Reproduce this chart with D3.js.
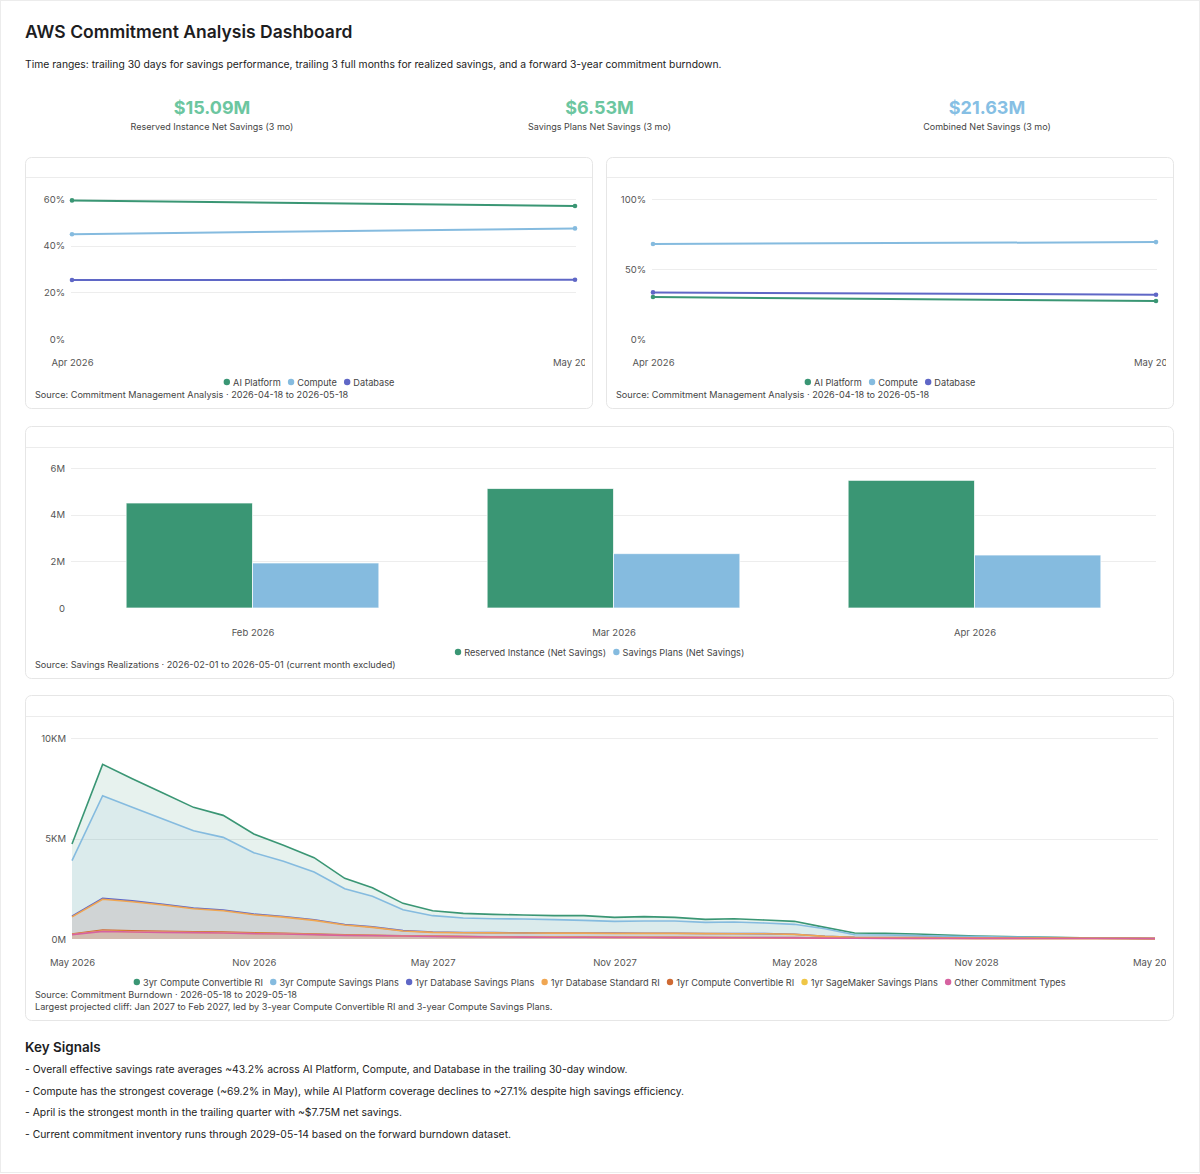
<!DOCTYPE html>
<html><head><meta charset="utf-8">
<script src="https://cdn.jsdelivr.net/npm/d3@7"></script>
<style>
body{margin:0;background:#fff;}
svg text{font-family:Inter,"Noto Sans",Arial,sans-serif;}
</style></head>
<body><svg id="page" width="1200" height="1174"></svg>
<script>
// ---------- DATA ----------
const kpiValues = ["$15.09M", "$6.53M", "$21.63M"];
const kpiLabels = ["Reserved Instance Net Savings (3 mo)", "Savings Plans Net Savings (3 mo)", "Combined Net Savings (3 mo)"];

const lineCategories = ["Apr 2026", "May 2026"];
const lineSeriesNames = ["AI Platform", "Compute", "Database"];
// savings rate (%)
const rateAI = [59.4, 57.0];
const rateCompute = [44.9, 47.4];
const rateDatabase = [25.3, 25.4];
const rateTicks = [0, 20, 40, 60];
const rateTickLabels = ["0%", "20%", "40%", "60%"];
// coverage (%)
const covAI = [30.0, 27.1];
const covCompute = [67.9, 69.2];
const covDatabase = [33.3, 31.6];
const covTicks = [0, 50, 100];
const covTickLabels = ["0%", "50%", "100%"];

const barMonths = ["Feb 2026", "Mar 2026", "Apr 2026"];
const barSeriesNames = ["Reserved Instance (Net Savings)", "Savings Plans (Net Savings)"];
const riNetSavings = [4.50, 5.12, 5.47];   // $M
const spNetSavings = [1.93, 2.33, 2.27];   // $M
const barTicks = [0, 2, 4, 6];
const barTickLabels = ["0", "2M", "4M", "6M"];

const burnMonths = ["2026-05","2026-06","2026-07","2026-08","2026-09","2026-10","2026-11","2026-12",
  "2027-01","2027-02","2027-03","2027-04","2027-05","2027-06","2027-07","2027-08","2027-09","2027-10","2027-11","2027-12",
  "2028-01","2028-02","2028-03","2028-04","2028-05","2028-06","2028-07","2028-08","2028-09","2028-10","2028-11","2028-12",
  "2029-01","2029-02","2029-03","2029-04","2029-05"];
const burnSeriesNames = ["3yr Compute Convertible RI","3yr Compute Savings Plans","1yr Database Savings Plans",
  "1yr Database Standard RI","1yr Compute Convertible RI","1yr SageMaker Savings Plans","Other Commitment Types"];
const burn3yrComputeRI = [829,1559,1427,1293,1161,1094,929,796,712,514,431,315,248,232,216,199,199,232,199,216,183,149,165,149,149,66,83,83,83,66,33,20,10,5,2,1,0];
const burn3yrComputeSP = [2766,5099,4654,4237,3843,3614,3054,2740,2378,1784,1520,1041,816,723,696,692,662,631,589,607,609,556,576,530,492,378,130,122,96,72,60,49,40,25,12,2,0];
const burn1yrDatabaseSP = [30,50,45,42,40,38,35,33,30,25,22,18,15,12,10,8,8,8,8,8,8,8,8,8,6,3,2,2,2,1,1,1,0,0,0,0,0];
const burn1yrDatabaseRI = [849,1539,1446,1307,1144,1064,902,807,680,491,396,238,187,184,195,190,192,195,192,195,198,189,189,188,165,82,44,38,33,26,22,18,15,11,9,6,2];
const burn1yrComputeRI = [25,45,42,38,34,32,28,25,21,16,13,9,7,7,7,7,7,7,7,7,7,7,7,7,6,4,3,3,2,2,2,2,1,1,1,1,0];
const burn1yrSageMakerSP = [10,15,14,13,12,11,10,9,8,6,5,4,3,3,3,3,3,3,3,3,3,3,3,3,3,2,1,1,1,1,1,1,1,1,0,0,0];
const burnOther = [216,381,348,332,315,298,265,249,216,182,166,149,133,116,100,95,90,85,80,75,70,66,63,60,58,45,35,33,32,31,30,29,28,27,26,25,20];
const burnTicks = [0, 5000, 10000];
const burnTickLabels = ["0M", "5KM", "10KM"];
const burnXTickLabels = ["May 2026","Nov 2026","May 2027","Nov 2027","May 2028","Nov 2028","May 2029"];

const signals = [
  "- Overall effective savings rate averages ~43.2% across AI Platform, Compute, and Database in the trailing 30-day window.",
  "- Compute has the strongest coverage (~69.2% in May), while AI Platform coverage declines to ~27.1% despite high savings efficiency.",
  "- April is the strongest month in the trailing quarter with ~$7.75M net savings.",
  "- Current commitment inventory runs through 2029-05-14 based on the forward burndown dataset."
];

// ---------- STYLE ----------
const C = {green:"#3a9674", blue:"#85bbdf", purple:"#5f67c6", lorange:"#f0a652", dorange:"#cf6a33", yellow:"#efc646", pink:"#d662a0"};
const burnColors = [C.green, C.blue, C.purple, C.lorange, C.dorange, C.yellow, C.pink];
const SMALL = 9.5, LEG = 9.2, SRC = 9.15;
const svg = d3.select("#page");

svg.append("rect").attr("x",0.5).attr("y",0.5).attr("width",1199).attr("height",1172)
  .attr("fill","#fff").attr("stroke","#ececec");

svg.append("text").attr("x",25).attr("y",31).attr("dominant-baseline","central")
  .attr("font-size",17.5).attr("font-weight",600).attr("fill","#1d1d1f").text("AWS Commitment Analysis Dashboard");
svg.append("text").attr("x",25).attr("y",64).attr("dominant-baseline","central")
  .attr("font-size",10.35).attr("fill","#222").text("Time ranges: trailing 30 days for savings performance, trailing 3 full months for realized savings, and a forward 3-year commitment burndown.");

const kpiColors = ["#6cc6a0", "#6cc6a0", "#86bfe4"];
const kpiX = d3.scalePoint().domain(d3.range(kpiValues.length)).range([212, 987]);
kpiValues.forEach((v,i)=>{
  svg.append("text").attr("x",kpiX(i)).attr("y",107).attr("text-anchor","middle").attr("dominant-baseline","central")
    .attr("font-size",18).attr("font-weight",700).attr("fill",kpiColors[i]).text(v);
  svg.append("text").attr("x",kpiX(i)).attr("y",126).attr("text-anchor","middle").attr("dominant-baseline","central")
    .attr("font-size",9).attr("fill","#444").text(kpiLabels[i]);
});

let clipId = 0;
function card(x, y, w, h, headerH) {
  const g = svg.append("g").attr("transform", `translate(${x},${y})`);
  g.append("rect").attr("x",0.5).attr("y",0.5).attr("width",w-1).attr("height",h-1).attr("rx",6)
    .attr("fill","#fff").attr("stroke","#e6e6e6");
  g.append("line").attr("x1",1).attr("x2",w-1).attr("y1",headerH+0.5).attr("y2",headerH+0.5).attr("stroke","#ececec");
  const id = "clip" + (clipId++);
  g.append("clipPath").attr("id", id).append("rect").attr("x",0).attr("y",0).attr("width",w-8).attr("height",h);
  return g.append("g").attr("clip-path", `url(#${id})`);
}

function yAxis(g, y, ticks, labels, x, pad) {
  const ax = g.append("g").attr("transform", `translate(${x},0)`)
    .call(d3.axisLeft(y).tickValues(ticks).tickFormat((d,i)=>labels[i]).tickSize(0).tickPadding(pad));
  ax.select(".domain").remove();
  ax.selectAll("text").attr("font-size",SMALL).attr("fill","#555").attr("font-family","Inter, sans-serif");
}
function grid(g, y, ticks, x1, x2) {
  g.append("g").selectAll("line").data(ticks.filter(t=>t>0)).join("line")
    .attr("x1",x1).attr("x2",x2).attr("y1",d=>Math.round(y(d))+0.5).attr("y2",d=>Math.round(y(d))+0.5)
    .attr("stroke","#ededed");
}
function xAxis(g, x, yc, tickVals, fmt) {
  const ax = g.append("g").attr("transform", `translate(0,${yc-3.4})`)
    .call(d3.axisBottom(x).tickValues(tickVals).tickFormat(fmt).tickSize(0).tickPadding(0));
  ax.select(".domain").remove();
  ax.selectAll("text").attr("font-size",SMALL).attr("fill","#555").attr("font-family","Inter, sans-serif");
}
function legend(g, items, cx, yc) {
  const lg = g.append("g");
  let xs = 0;
  items.forEach(it=>{
    const ig = lg.append("g");
    ig.append("circle").attr("cx",3.3).attr("cy",0).attr("r",3.2).attr("fill",it.color);
    const t = ig.append("text").attr("x",9.5).attr("y",0).attr("dominant-baseline","central")
      .attr("font-size",LEG).attr("fill","#444").text(it.label);
    const w = 9.5 + t.node().getComputedTextLength();
    ig.attr("transform",`translate(${xs},0)`);
    xs += w + 7;
  });
  const total = xs - 7;
  lg.attr("transform",`translate(${cx - total/2},${yc})`);
}
function source(g, lines, x, y0) {
  lines.forEach((s,i)=>g.append("text").attr("x",x).attr("y",y0 + i*12).attr("dominant-baseline","central")
    .attr("font-size",SRC).attr("fill","#444").text(s));
}

// ---------- LINE CHARTS ----------
function lineChart(cx, cy, seriesVals, ticks, tickLabels, yMax, src) {
  const W = 568, H = 252;
  const g = card(cx, cy, W, H, 20);
  const x = d3.scalePoint().domain(lineCategories).range([47, 550]);
  const y = d3.scaleLinear().domain([0, yMax]).range([182, 42]);
  grid(g, y, ticks, 46, 551);
  yAxis(g, y, ticks, tickLabels, 40, 0);
  const colors = [C.green, C.blue, C.purple];
  const line = d3.line().x((d,i)=>x(lineCategories[i])).y(d=>y(d));
  seriesVals.forEach((vals,k)=>{
    g.append("path").datum(vals).attr("d",line).attr("fill","none").attr("stroke",colors[k]).attr("stroke-width",2);
    g.append("g").selectAll("circle").data(vals).join("circle")
      .attr("cx",(d,i)=>x(lineCategories[i])).attr("cy",d=>y(d)).attr("r",2.3).attr("fill",colors[k]);
  });
  xAxis(g, x, 206, lineCategories, d=>d);
  legend(g, lineSeriesNames.map((n,k)=>({label:n,color:colors[k]})), W/2, 225);
  source(g, [src], 10, 237);
}
lineChart(25, 157, [rateAI, rateCompute, rateDatabase], rateTicks, rateTickLabels, 60,
  "Source: Commitment Management Analysis · 2026-04-18 to 2026-05-18");
lineChart(606, 157, [covAI, covCompute, covDatabase], covTicks, covTickLabels, 100,
  "Source: Commitment Management Analysis · 2026-04-18 to 2026-05-18");

// ---------- BAR CHART ----------
(function(){
  const W = 1149, H = 253;
  const g = card(25, 426, W, H, 21);
  const x0 = d3.scaleBand().domain(barMonths).range([47, 1130]).paddingInner(0.3).paddingOuter(0.15);
  const x1 = d3.scaleBand().domain([0,1]).range([0, x0.bandwidth()]);
  const y = d3.scaleLinear().domain([0, 6]).range([182, 42]);
  grid(g, y, barTicks, 46, 1131);
  yAxis(g, y, barTicks, barTickLabels, 40, 0);
  const series = [riNetSavings, spNetSavings];
  const colors = [C.green, C.blue];
  series.forEach((vals,k)=>{
    g.append("g").selectAll("rect").data(vals).join("rect")
      .attr("x",(d,i)=>x0(barMonths[i]) + x1(k)).attr("width",x1.bandwidth())
      .attr("y",d=>y(d)).attr("height",d=>y(0)-y(d))
      .attr("fill",colors[k]).attr("stroke","rgba(255,255,255,0.7)").attr("stroke-width",1);
  });
  const xc = d3.scalePoint().domain(barMonths).range([x0(barMonths[0])+x0.bandwidth()/2, x0(barMonths[2])+x0.bandwidth()/2]);
  xAxis(g, xc, 207, barMonths, d=>d);
  legend(g, barSeriesNames.map((n,k)=>({label:n,color:colors[k]})), W/2, 226);
  source(g, ["Source: Savings Realizations · 2026-02-01 to 2026-05-01 (current month excluded)"], 10, 238);
})();

// ---------- BURNDOWN (stacked area) ----------
(function(){
  const W = 1149, H = 326;
  const g = card(25, 695, W, H, 21);
  const parse = d3.timeParse("%Y-%m");
  const dates = burnMonths.map(parse);
  const x = d3.scaleTime().domain([dates[0], dates[dates.length-1]]).range([47, 1130]);
  const y = d3.scaleLinear().domain([0, 10000]).range([244, 43]);
  grid(g, y, burnTicks, 46, 1133);
  yAxis(g, y, burnTicks, burnTickLabels, 41, 0);

  const seriesVals = [burn3yrComputeRI, burn3yrComputeSP, burn1yrDatabaseSP, burn1yrDatabaseRI, burn1yrComputeRI, burn1yrSageMakerSP, burnOther];
  const rows = dates.map((d,i)=>{ const r = {date:d}; burnSeriesNames.forEach((n,k)=>r[n]=seriesVals[k][i]); return r; });
  // first legend item on top of the stack
  const keys = burnSeriesNames.slice().reverse();
  const stacked = d3.stack().keys(keys)(rows);
  const area = d3.area().x(d=>x(d.data.date)).y0(y(0)).y1(d=>y(d[1]));
  const line = d3.line().x(d=>x(d.data.date)).y(d=>y(d[1]));
  const colorOf = n => burnColors[burnSeriesNames.indexOf(n)];
  const topDown = stacked.slice().reverse();   // legend order
  topDown.forEach(s=>{
    g.append("path").datum(s).attr("d",area).attr("fill",colorOf(s.key)).attr("fill-opacity",0.12);
  });
  topDown.forEach(s=>{
    g.append("path").datum(s).attr("d",line).attr("fill","none").attr("stroke",colorOf(s.key)).attr("stroke-width",1.6);
  });
  const tickDates = burnXTickLabels.map(d3.timeParse("%b %Y"));
  xAxis(g, x, 268, tickDates, d3.timeFormat("%b %Y"));
  legend(g, burnSeriesNames.map((n,k)=>({label:n,color:burnColors[k]})), W/2, 287);
  source(g, ["Source: Commitment Burndown · 2026-05-18 to 2029-05-18",
             "Largest projected cliff: Jan 2027 to Feb 2027, led by 3-year Compute Convertible RI and 3-year Compute Savings Plans."], 10, 299);
})();

// ---------- KEY SIGNALS ----------
svg.append("text").attr("x",25).attr("y",1047).attr("dominant-baseline","central")
  .attr("font-size",13.5).attr("font-weight",600).attr("fill","#1d1d1f").text("Key Signals");
const sy = d3.scalePoint().domain(d3.range(signals.length)).range([1069, 1134]);
signals.forEach((s,i)=>svg.append("text").attr("x",25).attr("y",sy(i)).attr("dominant-baseline","central")
  .attr("font-size",10.35).attr("fill","#222").text(s));
</script></body></html>
